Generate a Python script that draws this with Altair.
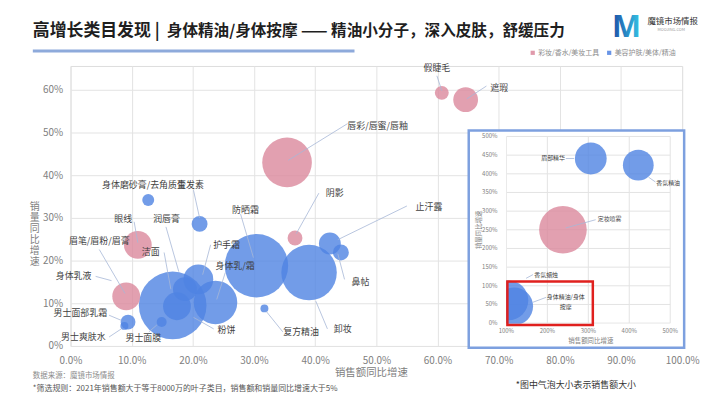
import altair as alt
import pandas as pd

FONT = "Noto Sans CJK SC"

CAT_MAKEUP = "彩妆/香水/美妆工具"
CAT_CARE = "美容护肤/美体/精油"

# ---------------- main chart data ----------------
main_names = ["假睫毛", "遮瑕", "唇彩/唇蜜/唇釉", "阴影", "止汗露", "鼻帖", "卸妆", "复方精油",
              "防晒霜", "身体乳/霜", "洁面", "护手霜", "润唇膏", "粉饼", "男士面膜", "眼线",
              "眉笔/眉粉/眉膏", "身体磨砂膏/去角质膏", "生发素", "男士面部乳霜", "男士爽肤水"]
main_sales_growth = [0.607, 0.646, 0.354, 0.367, 0.424, 0.442, 0.390, 0.317,
                     0.304, 0.237, 0.167, 0.209, 0.187, 0.174, 0.149, 0.110,
                     0.091, 0.127, 0.211, 0.094, 0.088]
main_volume_growth = [0.593, 0.577, 0.430, 0.253, 0.240, 0.219, 0.172, 0.088,
                      0.188, 0.102, 0.095, 0.156, 0.133, 0.093, 0.056, 0.237,
                      0.116, 0.342, 0.286, 0.056, 0.047]
main_sales = [4.9, 15.6, 62.5, 5.6, 12.1, 6.4, 78, 1.6,
              102, 48, 116, 22.5, 14.4, 19.6, 2.5, 19.6,
              19.6, 3.6, 6.4, 5.6, 1.6]
main_cat = [CAT_MAKEUP, CAT_MAKEUP, CAT_MAKEUP, CAT_MAKEUP, CAT_CARE, CAT_CARE, CAT_CARE, CAT_CARE,
            CAT_CARE, CAT_CARE, CAT_CARE, CAT_CARE, CAT_CARE, CAT_CARE, CAT_CARE, CAT_MAKEUP,
            CAT_MAKEUP, CAT_CARE, CAT_CARE, CAT_CARE, CAT_CARE]

# data labels (anchor in data units)
label_names = ["假睫毛", "遮瑕", "唇彩/唇蜜/唇釉", "阴影", "止汗露", "鼻帖", "卸妆", "复方精油",
               "防晒霜", "身体乳/霜", "护手霜", "粉饼", "洁面", "润唇膏", "眼线", "眉笔/眉粉/眉膏",
               "身体乳液", "男士面部乳霜", "男士爽肤水", "男士面膜", "身体磨砂膏/去角质膏", "生发素"]
label_x = [0.599, 0.701, 0.502, 0.432, 0.586, 0.474, 0.445, 0.377,
           0.286, 0.269, 0.255, 0.255, 0.131, 0.157, 0.086, 0.047,
           0.005, 0.016, 0.021, 0.119, 0.120, 0.196]
label_y = [0.651, 0.605, 0.516, 0.358, 0.326, 0.149, 0.040, 0.033,
           0.319, 0.188, 0.237, 0.037, 0.219, 0.298, 0.298, 0.247,
           0.163, 0.077, 0.021, 0.019, 0.377, 0.377]

# leader lines (label end -> bubble)
lead_x1 = [0.599, 0.680, 0.453, 0.406, 0.550, 0.448, 0.420, 0.347, 0.278, 0.253, 0.229,
           0.234, 0.153, 0.156, 0.104, 0.047, 0.041, 0.063, 0.063, 0.128, 0.201]
lead_y1 = [0.633, 0.609, 0.521, 0.358, 0.328, 0.156, 0.040, 0.033, 0.309, 0.172, 0.237,
           0.040, 0.219, 0.279, 0.291, 0.226, 0.163, 0.072, 0.021, 0.033, 0.365]
lead_x2 = [0.607, 0.648, 0.356, 0.369, 0.437, 0.437, 0.401, 0.320, 0.299, 0.239, 0.216,
           0.201, 0.164, 0.177, 0.110, 0.089, 0.067, 0.083, 0.083, 0.141, 0.211]
lead_y2 = [0.598, 0.579, 0.435, 0.263, 0.249, 0.216, 0.105, 0.081, 0.207, 0.109, 0.167,
           0.067, 0.133, 0.174, 0.242, 0.123, 0.153, 0.060, 0.040, 0.049, 0.300]

x_ticks = [0.0, 0.1, 0.2, 0.3, 0.4, 0.5, 0.6, 0.7, 0.8, 0.9, 1.0]
y_ticks = [0.0, 0.1, 0.2, 0.3, 0.4, 0.5, 0.6]

# ---------------- inset data ----------------
inset_names = ["眉部精华", "香氛精油", "定妆喷雾", "香氛蜡烛", "身体精油/身体按摩"]
inset_sales_growth = [3.06, 4.22, 2.38, 1.05, 1.19]
inset_volume_growth = [4.41, 4.23, 2.50, 0.61, 0.45]
inset_sales = [25.6, 24.0, 57.6, 40.0, 36.1]
inset_cat = [CAT_CARE, CAT_CARE, CAT_MAKEUP, CAT_CARE, CAT_CARE]

inset_label_text = ["眉部精华", "香氛精油", "定妆喷雾", "香氛蜡烛", "身体精油/身体\n按摩"]
inset_label_x = [2.14, 4.95, 3.52, 1.97, 2.45]
inset_label_y = [4.41, 3.75, 2.79, 1.30, 0.69]

inset_lead_x1 = [2.45, 4.47, 3.18, 1.65, 1.97]
inset_lead_y1 = [4.41, 3.91, 2.77, 1.30, 0.69]
inset_lead_x2 = [2.65, 4.64, 2.45, 1.48, 1.65]
inset_lead_y2 = [4.41, 3.78, 2.55, 1.20, 0.56]

inset_x_ticks = [1, 2, 3, 4, 5]
inset_y_ticks = [0, 0.5, 1, 1.5, 2, 2.5, 3, 3.5, 4, 4.5, 5]

# ---------------- styles ----------------
PINK = "#DB889C"
BLUE = "#4F83E2"
LEADER = "#A7B7D6"
GRID = "#E3E3E3"
TICK = "#808080"
LABEL = "#3F3F3F"

W, H = 616, 282

df_main = pd.DataFrame({"name": main_names, "sx": main_sales_growth, "vy": main_volume_growth,
                        "sales": main_sales, "cat": main_cat})
df_lab = pd.DataFrame({"name": label_names, "x": label_x, "y": label_y})
df_lead = pd.DataFrame({"x1": lead_x1, "y1": lead_y1, "x2": lead_x2, "y2": lead_y2})

xs = alt.Scale(domain=[0, 1], nice=False, zero=False)
ys = alt.Scale(domain=[0, 0.656], nice=False, zero=False)
size_scale = alt.Scale(domain=[0, 120], range=[0, 4800])
color_scale = alt.Scale(domain=[CAT_MAKEUP, CAT_CARE], range=[PINK, BLUE])

x_axis = alt.Axis(values=x_ticks, format=".1%", title=None, grid=True, gridColor=GRID,
                  domain=False, ticks=False, labelFontSize=10, labelColor=TICK, labelFont=FONT,
                  labelPadding=10, labelFlush=False)
y_axis = alt.Axis(values=y_ticks, format=".0%", title=None, grid=True, gridColor=GRID,
                  domain=False, ticks=False, labelFontSize=10, labelColor=TICK, labelFont=FONT,
                  labelPadding=8)

bubbles = alt.Chart(df_main).mark_circle(opacity=0.8).encode(
    x=alt.X("sx:Q", scale=xs, axis=x_axis),
    y=alt.Y("vy:Q", scale=ys, axis=y_axis),
    size=alt.Size("sales:Q", scale=size_scale, legend=None),
    color=alt.Color("cat:N", scale=color_scale,
                    legend=alt.Legend(orient="none", legendX=462, legendY=-17, direction="horizontal",
                                      title=None, symbolType="square", symbolSize=18,
                                      symbolOpacity=0.85, symbolStrokeWidth=0,
                                      labelFontSize=7, labelColor="#8C8C8C", labelFont=FONT,
                                      columnPadding=6, labelOffset=2)),
    order=alt.Order("sales:Q", sort="descending"),
)

leaders = alt.Chart(df_lead).mark_rule(color=LEADER, strokeWidth=0.8).encode(
    x=alt.X("x1:Q", scale=xs, axis=x_axis), y=alt.Y("y1:Q", scale=ys, axis=y_axis),
    x2="x2:Q", y2="y2:Q",
)

labels = alt.Chart(df_lab).mark_text(font=FONT, fontSize=9, color=LABEL, align="center",
                                     baseline="middle").encode(
    x=alt.X("x:Q", scale=xs, axis=x_axis), y=alt.Y("y:Q", scale=ys, axis=y_axis), text="name:N",
)

main_layer = alt.layer(bubbles, leaders, labels)

# ---------------- inset ----------------
xs_in = alt.Scale(domain=[1, 5], range=[439, 604], nice=False, zero=False)
ys_in = alt.Scale(domain=[0, 5], range=[259, 71], nice=False, zero=False)

df_in = pd.DataFrame({"name": inset_names, "sx": inset_sales_growth, "vy": inset_volume_growth,
                      "sales": inset_sales, "cat": inset_cat})
df_in_lab = pd.DataFrame({"t": inset_label_text, "x": inset_label_x, "y": inset_label_y})
df_in_lead = pd.DataFrame({"x1": inset_lead_x1, "y1": inset_lead_y1,
                           "x2": inset_lead_x2, "y2": inset_lead_y2})
df_gx = pd.DataFrame({"v": inset_x_ticks, "lo": 0, "hi": 5})
df_gy = pd.DataFrame({"v": inset_y_ticks, "lo": 1, "hi": 5})


def rect_layer(x1, x2, y1, y2, **mark):
    d = pd.DataFrame({"a": [x1], "b": [x2], "c": [y1], "d": [y2]})
    return alt.Chart(d).mark_rect(**mark).encode(
        x=alt.X("a:Q", scale=xs_in, axis=None), x2="b:Q",
        y=alt.Y("c:Q", scale=ys_in, axis=None), y2="d:Q")


box_bg = rect_layer(0.08, 5.34, -0.66, 5.16, fill="white")
grid_v = alt.Chart(df_gx).mark_rule(color=GRID, strokeWidth=1).encode(
    x=alt.X("v:Q", scale=xs_in, axis=None), y=alt.Y("lo:Q", scale=ys_in, axis=None), y2="hi:Q")
grid_h = alt.Chart(df_gy).mark_rule(color=GRID, strokeWidth=1).encode(
    y=alt.Y("v:Q", scale=ys_in, axis=None), x=alt.X("lo:Q", scale=xs_in, axis=None), x2="hi:Q")
bubbles_in = alt.Chart(df_in).mark_circle(opacity=0.8).encode(
    x=alt.X("sx:Q", scale=xs_in, axis=None), y=alt.Y("vy:Q", scale=ys_in, axis=None),
    size=alt.Size("sales:Q", scale=size_scale, legend=None),
    color=alt.Color("cat:N", scale=color_scale, legend=None),
    order=alt.Order("sales:Q", sort="descending"),
)
cover_left = rect_layer(0.13, 0.995, -0.6, 5.1, fill="white")
cover_bottom = rect_layer(0.99, 5.3, -0.6, -0.015, fill="white")
ylab_in = alt.Chart(df_gy).mark_text(font=FONT, fontSize=6, color=TICK, align="right",
                                     baseline="middle", dx=-9).encode(
    x=alt.X("lo:Q", scale=xs_in, axis=None), y=alt.Y("v:Q", scale=ys_in, axis=None),
    text=alt.Text("v:Q", format=".0%"))
df_gx2 = pd.DataFrame({"v": inset_x_ticks, "base": 0})
xlab_in = alt.Chart(df_gx2).mark_text(font=FONT, fontSize=6, color=TICK, align="center",
                                      baseline="middle", dy=8).encode(
    x=alt.X("v:Q", scale=xs_in, axis=None), y=alt.Y("base:Q", scale=ys_in, axis=None),
    text=alt.Text("v:Q", format=".0%"))
lead_in = alt.Chart(df_in_lead).mark_rule(color=LEADER, strokeWidth=0.8).encode(
    x=alt.X("x1:Q", scale=xs_in, axis=None), y=alt.Y("y1:Q", scale=ys_in, axis=None),
    x2="x2:Q", y2="y2:Q")
lab_in = alt.Chart(df_in_lab).mark_text(font=FONT, fontSize=6, color=LABEL, align="center",
                                        baseline="middle", lineBreak="\n", lineHeight=10).encode(
    x=alt.X("x:Q", scale=xs_in, axis=None), y=alt.Y("y:Q", scale=ys_in, axis=None), text="t:N")
red_box = rect_layer(1.024, 3.11, -0.053, 1.117, fill="transparent", stroke="#E0201E",
                     strokeWidth=2.5)
blue_box = rect_layer(0.08, 5.34, -0.66, 5.16, fill="transparent", stroke="#7DA0DF",
                      strokeWidth=2.5)

inset_layer = alt.layer(box_bg, grid_h, grid_v, bubbles_in, cover_left, cover_bottom,
                        ylab_in, xlab_in, lead_in, lab_in, red_box, blue_box)

# ---------------- decorations (titles, notes) ----------------
ONE = pd.DataFrame({"k": [0]})


def txt(text, x, y, size, color, align="left", weight="normal", **kw):
    return alt.Chart(ONE).mark_text(text=text, fontSize=size, color=color, align=align,
                                    baseline="middle", font=FONT, fontWeight=weight, **kw).encode(
        x=alt.value(x), y=alt.value(y))


logo_grad = alt.LinearGradient(gradient="linear",
                               stops=[alt.GradientStop(color="#1D4FA6", offset=0),
                                      alt.GradientStop(color="#35C6E6", offset=1)],
                               x1=0, x2=1, y1=0, y2=0)

Y_TITLE = "销量同比增速"

deco = [
    txt("高增长类目发现 |", -38, -35, 17, "#1F1F1F", weight="bold"),
    txt("身体精油/身体按摩 —— 精油小分子，深入皮肤，舒缓压力", 97, -35, 15.7, "#1F1F1F", weight="bold"),
    alt.Chart(ONE).mark_rule(color="#8EAADB", strokeWidth=3).encode(
        x=alt.value(-38), x2=alt.value(286), y=alt.value(-15)),
    alt.Chart(ONE).mark_text(text="M", fontSize=31, fontWeight="bold", font="Noto Sans",
                             color=logo_grad, align="center", baseline="alphabetic").encode(
        x=alt.value(560), y=alt.value(-29)),
    txt("魔镜市场情报", 581, -45, 8.5, "#333333"),
    txt("MOOJING.COM", 605, -36, 4, "#999999", align="center"),
    txt("销售额同比增速", 303, 309, 10.5, TICK, align="center"),
    txt("数据来源：魔镜市场情报", -38, 312, 7.5, "#8C8C8C"),
    txt("*筛选规则：2021年销售额大于等于8000万的叶子类目，销售额和销量同比增速大于5%", -38, 325, 8,
        "#555555"),
    txt("*图中气泡大小表示销售额大小", 509, 321, 9, "#333333", align="center"),
    txt("销量同比增速", 411, 165, 6.5, TICK, align="center", angle=270),
    txt("销售额同比增速", 524, 277, 6.5, TICK, align="center"),
    txt("\n".join(Y_TITLE), -36, 142, 10, TICK, align="center", lineBreak="\n", lineHeight=11),
]

chart = alt.layer(main_layer, inset_layer, *deco).resolve_scale(
    x="independent", y="independent", color="independent", size="independent"
).properties(
    width=W, height=H,
    padding={"left": 63, "top": 57, "right": 20, "bottom": 48},
    autosize=alt.AutoSizeParams(type="none"),
).configure_view(strokeWidth=0).configure(background="white")

chart.save("out.html", embed_options={"renderer": "svg", "actions": False})
